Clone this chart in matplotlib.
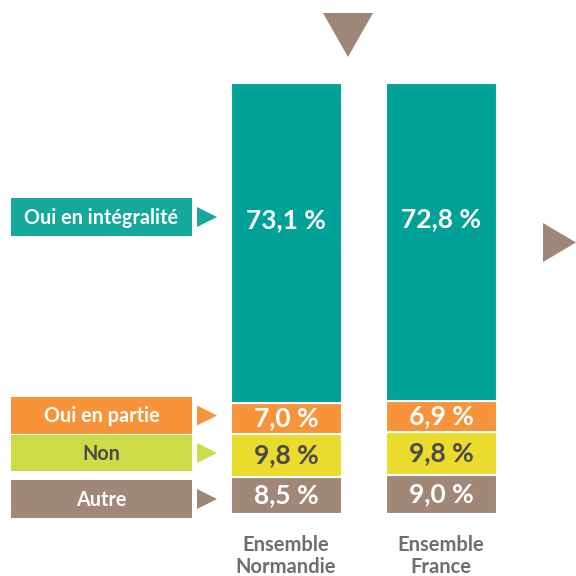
import matplotlib.pyplot as plt
from matplotlib.patches import Rectangle, Polygon

plt.rcParams['font.family'] = ['Lato', 'DejaVu Sans']

groups = ['Ensemble\nNormandie', 'Ensemble\nFrance']
categories = ['Autre', 'Non', 'Oui en partie', 'Oui en intégralité']
normandie = [8.5, 9.8, 7.0, 73.1]
france = [9.0, 9.8, 6.9, 72.8]
value_labels = [['8,5 %', '9,8 %', '7,0 %', '73,1 %'],
                ['9,0 %', '9,8 %', '6,9 %', '72,8 %']]

bar_colors = ['#a08778', '#ebdb2c', '#f7943a', '#00a196']
text_colors = ['white', '#4a4a4a', 'white', 'white']
legend_colors = ['#a08778', '#cddb46', '#f7943a', '#13a89a']
arrow_colors = ['#9e8679', '#cddb46', '#f7943a', '#13a89a']
brown = '#9e8679'

fig = plt.figure(figsize=(5.76, 5.76), dpi=100)

# bars: 0 % sits at pixel row 514, about 4.38 px per %
ppp = 4.38
ax = fig.add_axes([0, 0, 1, 1])
ax.set_xlim(0, 576)
ax.set_ylim(-(576 - 514) / ppp, 514 / ppp)
ax.axis('off')

xs = [286, 441]
for x, vals, labs in zip(xs, [normandie, france], value_labels):
    bottom = 0
    for v, col, tc, lab in zip(vals, bar_colors, text_colors, labs):
        ax.bar(x, v, bottom=bottom, width=111, color=col,
               edgecolor='white', linewidth=1.5)
        yc = bottom + v / 2
        if v > 50:
            # big label sits near the top of the teal block
            yc = bottom + v - 137 / ppp
        ax.text(x, yc, lab, ha='center', va='center', color=tc,
                fontsize=19, fontweight='bold')
        bottom += v

# overlay in pixel coordinates for labels and markers
ov = fig.add_axes([0, 0, 1, 1])
ov.set_xlim(0, 576)
ov.set_ylim(576, 0)
ov.axis('off')
ov.patch.set_alpha(0)

for x, g in zip(xs, groups):
    ov.text(x, 556, g, ha='center', va='center', color='#6e6e6e',
            fontsize=14.5, fontweight='bold', linespacing=1.1)

# legend boxes (top to bottom)
boxes = [(198, 236), (397, 434), (435, 471), (480, 518)]
for i, (y0, y1) in zip([3, 2, 1, 0], boxes):
    ov.add_patch(Rectangle((11, y0), 181, y1 - y0, color=legend_colors[i], lw=0))
    ov.text(101.5, (y0 + y1) / 2 + 1, categories[i], ha='center', va='center',
            color=text_colors[i] if i != 1 else '#4a4a4a',
            fontsize=14.2, fontweight='bold')
    yc = (y0 + y1) / 2
    ov.add_patch(Polygon([(197, yc - 10), (197, yc + 10), (217, yc)],
                         closed=True, color=arrow_colors[i], lw=0))

# top and right markers
ov.add_patch(Polygon([(323, 13), (373, 13), (348, 57)], closed=True, color=brown, lw=0))
ov.add_patch(Polygon([(543, 223), (543, 262), (576, 242.5)], closed=True, color=brown, lw=0))

fig.savefig('out.png', dpi=100)
